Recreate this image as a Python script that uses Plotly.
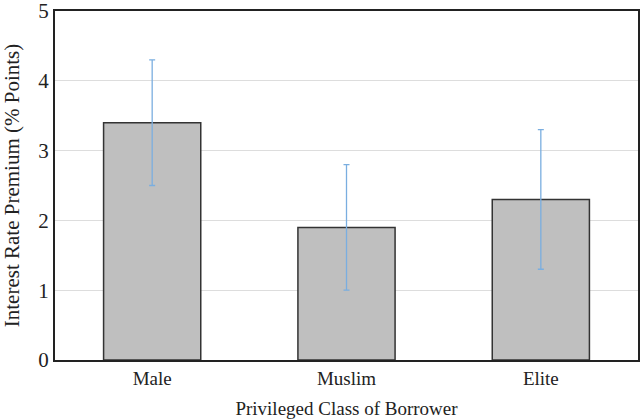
import plotly.graph_objects as go

categories = ["Male", "Muslim", "Elite"]
premium = [3.4, 1.9, 2.3]
err_plus = [0.9, 0.9, 1.0]
err_minus = [0.9, 0.9, 1.0]

fam = "'Liberation Serif', 'Times New Roman', serif"

fig = go.Figure(go.Bar(
    x=categories, y=premium,
    marker=dict(color="#bfbfbf", line=dict(color="#333333", width=1.5)),
    error_y=dict(type="data", symmetric=False, array=err_plus, arrayminus=err_minus,
                 color="#7aaee0", thickness=1.3, width=3),
))
fig.update_layout(
    template="none",
    width=640, height=419,
    margin=dict(l=55, r=2, t=11, b=59),
    paper_bgcolor="white", plot_bgcolor="white",
    bargap=0.5, showlegend=False,
    font=dict(family=fam, color="#222222", size=16),
)
fig.update_xaxes(
    title=dict(text="Privileged Class of Borrower", font=dict(family=fam, size=19), standoff=14),
    tickfont=dict(family=fam, size=19), showline=True, linecolor="#222222", linewidth=2,
    mirror=True, ticks="", showgrid=False, automargin=False,
)
fig.update_yaxes(
    title=dict(text="Interest Rate Premium (% Points)", font=dict(family=fam, size=21), standoff=16),
    range=[0, 5], dtick=1, tickfont=dict(family=fam, size=21), ticklabeloverflow="allow",
    showline=True, linecolor="#222222", linewidth=2, mirror=True,
    showgrid=True, gridcolor="#dddddd", gridwidth=1, zeroline=False, ticks="", automargin=False,
)
fig.write_html("out.html", config={"displayModeBar": False},
               post_script="document.body.style.margin='0';document.body.style.overflow='hidden';")
